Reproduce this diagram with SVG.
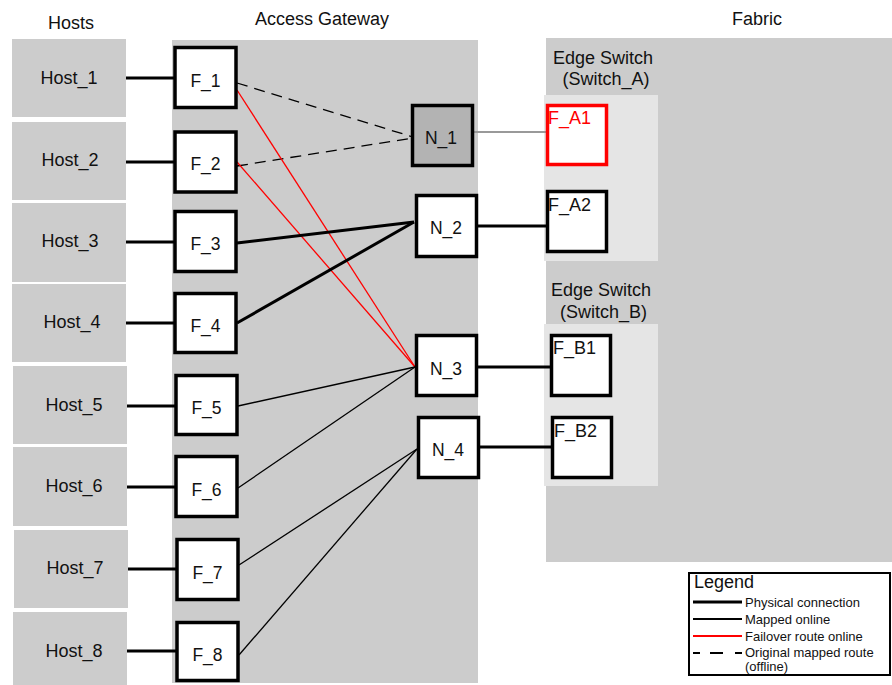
<svg xmlns="http://www.w3.org/2000/svg" width="892" height="685" viewBox="0 0 892 685">
<style>
text{font-family:"Liberation Sans",Arial,sans-serif;fill:#111}
.t{font-size:18px;text-anchor:middle}
.lb{font-size:17.5px;text-anchor:middle}
.fl{font-size:18px}
.lg{font-size:13px}
.host{fill:#cccccc}
.box{fill:#ffffff;stroke:#000;stroke-width:3.5}
.phys{stroke:#000;stroke-width:3;fill:none}
.map{stroke:#000;stroke-width:1.3;fill:none}
.fail{stroke:#ff0000;stroke-width:1.3;fill:none}
.off{stroke:#000;stroke-width:1.3;fill:none;stroke-dasharray:11,7}
</style>
<rect width="892" height="685" fill="#ffffff"/>
<g id="panels">
<rect x="172" y="40" width="306" height="643" fill="#cccccc"/>
<rect x="546" y="38" width="346" height="524" fill="#cccccc"/>
<rect x="544" y="95" width="114" height="166" fill="#e5e5e5"/>
<rect x="544" y="324" width="114" height="162" fill="#e5e5e5"/>
</g>
<g id="titles">
<text class="t" x="71" y="29">Hosts</text>
<text class="t" x="322" y="25">Access Gateway</text>
<text class="t" x="757" y="25">Fabric</text>
<text class="t" x="603" y="64">Edge Switch</text>
<text class="t" x="606" y="85">(Switch_A)</text>
<text class="t" x="601" y="296">Edge Switch</text>
<text class="t" x="603.5" y="318">(Switch_B)</text>
</g>
<g id="host1"><rect class="host" x="12" y="39" width="114" height="78"/><text class="t" x="69" y="84">Host_1</text></g>
<g id="host2"><rect class="host" x="12" y="122" width="114" height="78"/><text class="t" x="70" y="166">Host_2</text></g>
<g id="host3"><rect class="host" x="12" y="203" width="114" height="79"/><text class="t" x="70" y="247">Host_3</text></g>
<g id="host4"><rect class="host" x="12" y="284" width="114" height="78"/><text class="t" x="72" y="328">Host_4</text></g>
<g id="host5"><rect class="host" x="13" y="366" width="114" height="78"/><text class="t" x="74" y="411">Host_5</text></g>
<g id="host6"><rect class="host" x="13" y="447" width="114" height="79"/><text class="t" x="74" y="492">Host_6</text></g>
<g id="host7"><rect class="host" x="14" y="530" width="114" height="78"/><text class="t" x="75" y="574">Host_7</text></g>
<g id="host8"><rect class="host" x="13" y="612" width="114" height="73"/><text class="t" x="74" y="657">Host_8</text></g>
<g id="connectors">
<line class="phys" x1="126" y1="78" x2="174" y2="78"/>
<line class="phys" x1="126" y1="162" x2="174" y2="162"/>
<line class="phys" x1="126" y1="242" x2="174" y2="242"/>
<line class="phys" x1="126" y1="323" x2="174" y2="323"/>
<line class="phys" x1="127" y1="406" x2="175" y2="406"/>
<line class="phys" x1="127" y1="487" x2="175" y2="487"/>
<line class="phys" x1="128" y1="569" x2="176" y2="569"/>
<line class="phys" x1="127" y1="651" x2="176" y2="651"/>
<line class="off" x1="237" y1="83" x2="413" y2="137"/>
<line class="off" x1="237" y1="166" x2="413" y2="138"/>
<line class="fail" x1="237" y1="90" x2="415" y2="367"/>
<line class="fail" x1="237" y1="162" x2="415" y2="367"/>
<line class="phys" x1="237" y1="243" x2="414" y2="222"/>
<line class="phys" x1="237" y1="323" x2="414" y2="222"/>
<line class="map" x1="238" y1="406" x2="415" y2="367"/>
<line class="map" x1="238" y1="488" x2="415" y2="367"/>
<line class="map" x1="239" y1="565" x2="417" y2="449"/>
<line class="map" x1="239" y1="655" x2="417" y2="449"/>
<line x1="474" y1="132" x2="547" y2="132" stroke="#999999" stroke-width="2"/>
<line class="phys" x1="478" y1="226" x2="549" y2="226"/>
<line class="phys" x1="478" y1="367" x2="551" y2="367"/>
<line class="phys" x1="480" y1="447" x2="552" y2="447"/>
</g>
<g id="f1"><rect class="box" x="175" y="47.5" width="61" height="60"/><text class="lb" x="205.5" y="87">F_1</text></g>
<g id="f2"><rect class="box" x="175" y="132" width="61" height="60"/><text class="lb" x="205.5" y="170">F_2</text></g>
<g id="f3"><rect class="box" x="175" y="211.5" width="61" height="60"/><text class="lb" x="205.5" y="250">F_3</text></g>
<g id="f4"><rect class="box" x="175" y="293.5" width="61" height="59"/><text class="lb" x="205.5" y="332">F_4</text></g>
<g id="f5"><rect class="box" x="176" y="375.5" width="61" height="59"/><text class="lb" x="206.5" y="414">F_5</text></g>
<g id="f6"><rect class="box" x="176" y="456.5" width="61" height="60"/><text class="lb" x="206.5" y="496">F_6</text></g>
<g id="f7"><rect class="box" x="177" y="539.5" width="61" height="60"/><text class="lb" x="207.5" y="579">F_7</text></g>
<g id="f8"><rect class="box" x="177" y="622.5" width="61" height="58"/><text class="lb" x="207.5" y="661">F_8</text></g>
<g id="n1"><rect class="box" style="fill:#b3b3b3" x="412.5" y="105.5" width="60" height="60"/><text class="lb" x="441" y="144">N_1</text></g>
<g id="n2"><rect class="box" x="416.5" y="195.5" width="60" height="61"/><text class="lb" x="446" y="234">N_2</text></g>
<g id="n3"><rect class="box" x="416.5" y="335.5" width="60" height="60"/><text class="lb" x="446" y="375">N_3</text></g>
<g id="n4"><rect class="box" x="418.5" y="417.5" width="60" height="60"/><text class="lb" x="448" y="456">N_4</text></g>
<g id="fa1"><rect class="box" style="stroke:#ff0000" x="547.5" y="105.5" width="59" height="59"/><text class="fl" style="fill:#ff0000" x="548" y="124">F_A1</text></g>
<g id="fa2"><rect class="box" x="547.5" y="191.5" width="59" height="60"/><text class="fl" x="548" y="211">F_A2</text></g>
<g id="fb1"><rect class="box" x="551.5" y="335.5" width="59" height="60"/><text class="fl" x="553" y="354">F_B1</text></g>
<g id="fb2"><rect class="box" x="552.5" y="417.5" width="59" height="60"/><text class="fl" x="554" y="437">F_B2</text></g>
<g id="legend">
<rect x="689" y="573" width="201" height="102" fill="#ffffff" stroke="#000" stroke-width="2"/>
<text x="694" y="588" style="font-size:18px">Legend</text>
<line x1="693" y1="602" x2="742" y2="602" stroke="#000" stroke-width="3"/>
<line x1="693" y1="619" x2="742" y2="619" stroke="#000" stroke-width="2"/>
<line x1="693" y1="636" x2="742" y2="636" stroke="#ff0000" stroke-width="2"/>
<line x1="693" y1="653" x2="742" y2="653" stroke="#000" stroke-width="2" stroke-dasharray="7,10,13,12,8"/>
<text class="lg" x="745" y="607">Physical connection</text>
<text class="lg" x="745" y="624">Mapped online</text>
<text class="lg" x="745" y="641">Failover route online</text>
<text class="lg" x="745" y="657">Original mapped route</text>
<text class="lg" x="745" y="671">(offline)</text>
</g>
</svg>
